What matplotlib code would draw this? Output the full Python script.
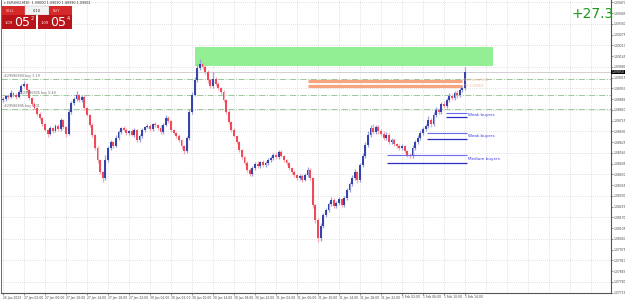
import matplotlib
matplotlib.use('Agg')
import matplotlib.pyplot as plt
from matplotlib.patches import Rectangle

# EURUSD M30 closes
closes = [
    1.08886, 1.08904, 1.08898, 1.08923, 1.08911, 1.08898, 1.08929, 1.08965, 1.08977, 1.08941,
    1.08892, 1.08856, 1.08832, 1.08796, 1.08771, 1.08735, 1.08699, 1.08675, 1.08711, 1.08693,
    1.08723, 1.08705, 1.08759, 1.08717, 1.08675, 1.08808, 1.08862, 1.08886, 1.08911, 1.08880,
    1.08898, 1.08832, 1.08790, 1.08729, 1.08669, 1.08590, 1.08517, 1.08445, 1.08409, 1.08517,
    1.08590, 1.08626, 1.08602, 1.08651, 1.08687, 1.08711, 1.08699, 1.08681, 1.08693, 1.08669,
    1.08699, 1.08638, 1.08663, 1.08699, 1.08717, 1.08723, 1.08705, 1.08735, 1.08729, 1.08711,
    1.08687, 1.08729, 1.08771, 1.08753, 1.08699, 1.08681, 1.08663, 1.08638, 1.08602, 1.08572,
    1.08651, 1.08808, 1.08911, 1.09001, 1.09074, 1.09098, 1.09080, 1.09050, 1.09001, 1.08965,
    1.09007, 1.08977, 1.08953, 1.08929, 1.08880, 1.08808, 1.08747, 1.08699, 1.08663, 1.08626,
    1.08578, 1.08536, 1.08499, 1.08457, 1.08433, 1.08469, 1.08493, 1.08481, 1.08505, 1.08487,
    1.08499, 1.08517, 1.08530, 1.08548, 1.08536, 1.08566, 1.08542, 1.08517, 1.08499, 1.08469,
    1.08445, 1.08427, 1.08409, 1.08421, 1.08397, 1.08427, 1.08457, 1.08409, 1.08245, 1.08155,
    1.08046, 1.08118, 1.08185, 1.08215, 1.08251, 1.08276, 1.08239, 1.08257, 1.08282, 1.08245,
    1.08288, 1.08336, 1.08372, 1.08409, 1.08445, 1.08397, 1.08487, 1.08542, 1.08608, 1.08669,
    1.08711, 1.08687, 1.08717, 1.08693, 1.08675, 1.08651, 1.08669, 1.08626, 1.08638, 1.08614,
    1.08602, 1.08590, 1.08602, 1.08572, 1.08548, 1.08542, 1.08590, 1.08626, 1.08651, 1.08681,
    1.08705, 1.08723, 1.08759, 1.08735, 1.08790, 1.08820, 1.08808, 1.08856, 1.08844, 1.08880,
    1.08904, 1.08892, 1.08923, 1.08911, 1.08941, 1.08953, 1.09050,
]
first_open = 1.08880
# wick lengths in points (1e-5)
upper_wick = [
    12, 8, 10, 15, 6, 9, 14, 10, 20, 6,
    5, 8, 12, 6, 10, 7, 9, 5, 14, 8,
    10, 12, 15, 9, 6, 18, 12, 10, 25, 8,
    14, 6, 9, 7, 12, 8, 10, 6, 9, 30,
    14, 10, 8, 16, 12, 9, 14, 10, 8, 12,
    15, 8, 10, 12, 9, 14, 10, 8, 12, 9,
    16, 14, 20, 10, 8, 7, 6, 9, 5, 8,
    12, 20, 15, 18, 22, 30, 14, 12, 10, 8,
    45, 12, 10, 8, 9, 6, 10, 8, 12, 7,
    9, 6, 8, 10, 12, 14, 10, 16, 9, 12,
    10, 14, 12, 9, 16, 12, 10, 8, 9, 6,
    8, 10, 7, 12, 9, 14, 18, 10, 6, 8,
    14, 20, 12, 15, 10, 18, 9, 12, 10, 8,
    14, 12, 10, 16, 20, 9, 14, 18, 20, 25,
    18, 22, 14, 12, 10, 15, 20, 9, 12, 10,
    8, 12, 10, 9, 7, 10, 16, 14, 18, 20,
    15, 12, 22, 14, 18, 16, 12, 15, 20, 14,
    16, 12, 14, 18, 12, 15, 30,
]
lower_wick = [
    10, 12, 9, 8, 14, 10, 8, 12, 9, 10,
    12, 9, 8, 14, 10, 12, 9, 16, 8, 12,
    9, 14, 10, 12, 20, 8, 10, 12, 9, 14,
    10, 12, 8, 14, 10, 12, 16, 10, 24, 12,
    10, 14, 12, 8, 10, 12, 9, 14, 10, 8,
    12, 9, 14, 10, 12, 8, 10, 12, 9, 14,
    10, 12, 8, 14, 10, 9, 12, 14, 16, 20,
    12, 10, 14, 8, 9, 10, 12, 14, 16, 10,
    12, 14, 10, 12, 9, 14, 10, 12, 9, 10,
    12, 14, 10, 12, 15, 14, 10, 12, 9, 10,
    12, 10, 9, 14, 10, 12, 8, 10, 12, 14,
    10, 12, 14, 10, 12, 9, 14, 12, 16, 18,
    24, 16, 14, 12, 10, 14, 12, 10, 12, 14,
    10, 12, 14, 10, 12, 16, 10, 12, 14, 12,
    14, 12, 10, 16, 12, 14, 10, 12, 14, 10,
    12, 10, 14, 12, 10, 12, 14, 10, 9, 12,
    14, 12, 10, 16, 12, 14, 10, 12, 14, 10,
    12, 14, 10, 16, 14, 12, 10,
]
date_labels = ['26 Jan 2023', '27 Jan 02:00', '27 Jan 06:00', '27 Jan 10:00', '27 Jan 14:00',
               '27 Jan 18:00', '27 Jan 22:00', '30 Jan 02:00', '30 Jan 06:00', '30 Jan 10:00',
               '30 Jan 14:00', '30 Jan 18:00', '30 Jan 22:00', '31 Jan 02:00', '31 Jan 06:00',
               '31 Jan 10:00', '31 Jan 14:00', '31 Jan 18:00', '31 Jan 22:00', '1 Feb 02:00',
               '1 Feb 06:00', '1 Feb 10:00', '1 Feb 14:00']
price_top = 1.09470
price_step = 0.00065
n_price_ticks = 28

# drawn objects
supply_zone = (73.1, 186.7, 1.09086, 1.09201)
pending_levels = [1.08998, 1.08968]
trade_levels = [1.09007, 1.08908, 1.08826]
trade_labels = ['#29586804 buy 3.19', '#29586805 buy 0.49', '#29586806 buy 3.01']
buyer_pairs = [(1.08799, 1.08775), (1.08678, 1.08645), (1.08545, 1.08500)]
buyer_start = [168.8, 161.5, 146.3]
buyer_labels = ['Weak buyers', 'Weak buyers', 'Medium buyers']
bid = 1.09050
profit_text = '+27.3'

W, H = 625, 301
fig = plt.figure(figsize=(W / 100, H / 100), dpi=100)
fig.patch.set_facecolor('white')
ax = fig.add_axes([1 / W, 8 / H, 610 / W, 293 / H])
ax.set_facecolor('white')

n = len(closes)
opens = [first_open] + closes[:-1]
x = list(range(n))
bull_body, bull_wick = '#3444aa', '#9aa2dc'
bear_body, bear_wick = '#f04a5a', '#f6aab3'
for i in x:
    o, c = opens[i], closes[i]
    hi = max(o, c) + upper_wick[i] * 1e-5
    lo = min(o, c) - lower_wick[i] * 1e-5
    up = c >= o
    ax.vlines(i, lo, hi, color=bull_wick if up else bear_wick, lw=0.9, zorder=3)
    ax.bar(i, max(abs(c - o), 0.00002), bottom=min(o, c), width=0.7,
           color=bull_body if up else bear_body, lw=0, zorder=4)

ax.set_xlim(-0.76, 231.6)
ax.set_ylim(1.077133, 1.094851)

# grid
for k in range(0, 232, 8):
    ax.axvline(k, color='#c4c4c4', lw=0.5, ls=(0, (1, 2)), zorder=0)
for k in range(0, n_price_ticks, 2):
    ax.axhline(price_top - k * price_step, color='#c4c4c4', lw=0.5, ls=(0, (1, 2)), zorder=0)

# supply zone
z0, z1, zlo, zhi = supply_zone
ax.add_patch(Rectangle((z0, zlo), z1 - z0, zhi - zlo, color='#93ef93', lw=0, zorder=2))

# trade lines
for lvl in trade_levels:
    ax.axhline(lvl, color='#9cc79c', lw=0.7, ls='-.', zorder=1)
ax.text(0.5, trade_levels[0] + 0.00004, trade_labels[0], fontsize=2.4, color='#6f6f6f', va='bottom', zorder=5)
ax.text(6.5, trade_levels[1] + 0.00004, trade_labels[1], fontsize=2.4, color='#6f6f6f', va='bottom', zorder=5)
ax.text(0.5, trade_levels[2] + 0.00004, trade_labels[2], fontsize=2.4, color='#6f6f6f', va='bottom', zorder=5)

# bid line
ax.axhline(bid, color='#bdbdbd', lw=0.5, zorder=1)

# pending order lines
for lvl in pending_levels:
    ax.hlines(lvl, 116.2, 174.9, color='#f6a57f', lw=2.3, zorder=2)
ax.text(175.5, pending_levels[0] + 0.00002, 'Sell Limit 1.09', fontsize=2.4, color='#f7b89a', va='center', zorder=5)
ax.text(175.5, pending_levels[1] - 0.00002, 'TP 1.08968', fontsize=2.4, color='#f7b89a', va='center', zorder=5)

# buyer levels
for (a, b), s, lab in zip(buyer_pairs, buyer_start, buyer_labels):
    ax.hlines(a, s, 176.8, color='#6b6bf2', lw=0.8, zorder=5)
    ax.hlines(b, s, 176.8, color='#2b2bc8', lw=0.9, zorder=5)
    ax.text(177.3, (a + b) / 2, lab, fontsize=3.0, color='#3a3ae6', va='center', zorder=5)

# axes styling
for side in ['top', 'left']:
    ax.spines[side].set_visible(False)
ax.spines['right'].set_color('#555555')
ax.spines['bottom'].set_color('#555555')
ax.spines['right'].set_linewidth(0.8)
ax.spines['bottom'].set_linewidth(0.8)
ax.yaxis.tick_right()
ticks_p = [price_top - k * price_step for k in range(n_price_ticks)]
ax.set_yticks(ticks_p)
ax.set_yticklabels(['%.5f' % p for p in ticks_p])
ax.tick_params(axis='y', labelsize=2.2, length=1.2, width=0.4, pad=0.6, colors='#444444')
ax.set_xticks([8 * k for k in range(len(date_labels))])
ax.set_xticklabels(date_labels, ha='left')
ax.tick_params(axis='x', labelsize=2.2, length=1.2, width=0.4, pad=0.6, colors='#444444')

# current price tag
ax.text(1.0012, bid, '%.5f' % bid, transform=ax.get_yaxis_transform(), fontsize=2.2,
        color='white', va='center', ha='left',
        bbox=dict(boxstyle='square,pad=0.12', fc='black', ec='none'), zorder=6, clip_on=False)

# left border line
fig.add_artist(plt.Line2D([1 / W, 1 / W], [8 / H, 1], color='#555555', lw=0.6))

# profit text
fig.text(593 / W, 1 - 14 / H, profit_text, fontsize=10, color='#1b9a1b', ha='center', va='center')


def box(x0, y0, w, h, fc, ec='none'):
    fig.add_artist(Rectangle((x0 / W, 1 - (y0 + h) / H), w / W, h / H,
                             transform=fig.transFigure, fc=fc, ec=ec, lw=0.3))


def ftext(xp, yp, s, **kw):
    fig.text(xp / W, 1 - yp / H, s, **kw)


# one-click trading panel
ftext(4, 3.5, '\u25be EURUSD,M30  1.09000 1.09030 1.08990 1.09002', fontsize=2.4, color='#333333', va='center')
box(2, 6, 23, 9, '#d62a2a')
box(25, 6, 24, 9, '#f2f2f2', '#bbbbbb')
box(49, 6, 23, 9, '#d62a2a')
box(2, 15, 34, 14, '#b8141a')
box(38, 15, 34, 14, '#b8141a')
ftext(6, 10.5, 'SELL', fontsize=2.6, color='#ffd0d0', va='center')
ftext(37, 10.5, '0.10', fontsize=2.6, color='#333333', va='center', ha='center')
ftext(53, 10.5, 'BUY', fontsize=2.6, color='#ffd0d0', va='center')
ftext(5, 23, '1.09', fontsize=2.6, color='white', va='center')
ftext(14, 22, '05', fontsize=9, color='white', va='center')
ftext(31, 18.5, '2', fontsize=3.5, color='white', va='center')
ftext(41, 23, '1.09', fontsize=2.6, color='white', va='center')
ftext(50, 22, '05', fontsize=9, color='white', va='center')
ftext(67, 18.5, '4', fontsize=3.5, color='white', va='center')

fig.savefig('out.png', dpi=100)
